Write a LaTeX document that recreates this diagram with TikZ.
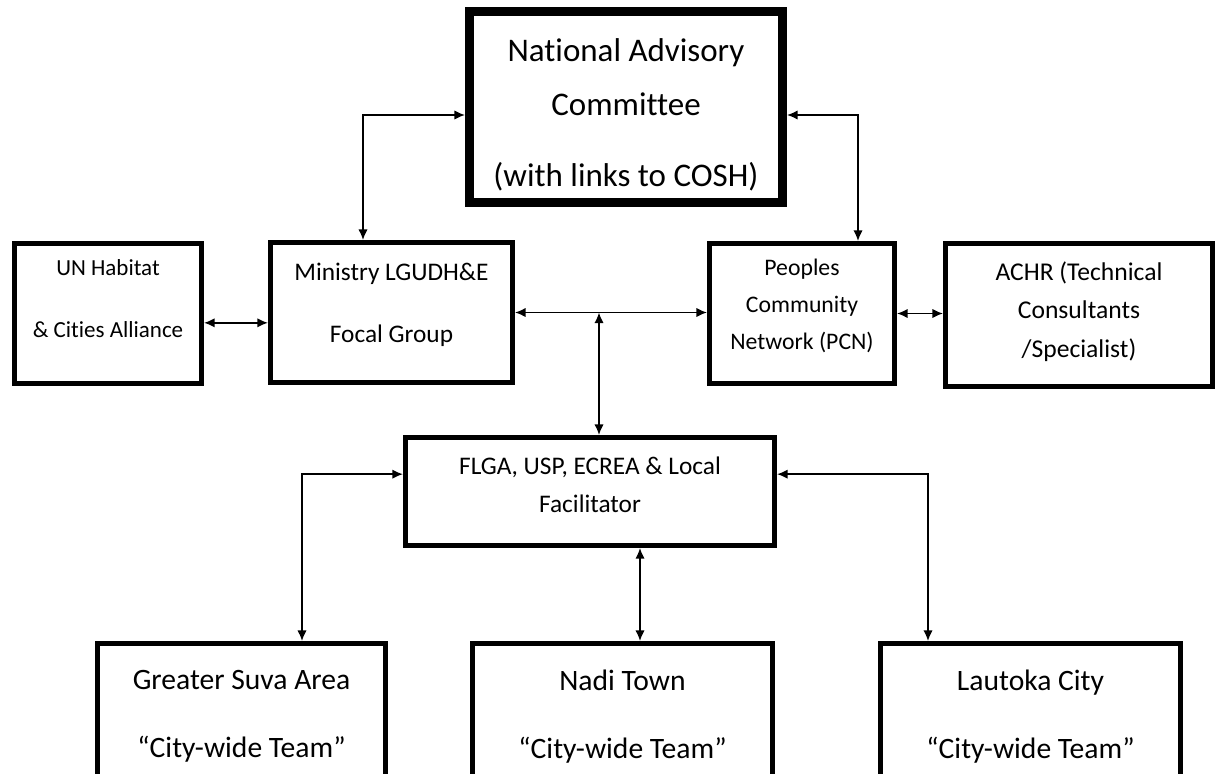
\documentclass[tikz,border=0pt]{standalone}
\usepackage{fontspec}
\setmainfont{Carlito}[Ligatures={TeX,NoCommon}]
\usetikzlibrary{arrows.meta}
\usetikzlibrary{calc}

\newcommand\pxu{0.75pt}

\begin{document}
\begin{tikzpicture}[x=0.75pt,y=-0.75pt,
    unit/.style={draw, line width=3.75pt, align=center, inner sep=0pt},
    chief/.style={unit, line width=6.75pt},
    link/.style={{Latex[length=8pt,width=7pt]}-{Latex[length=8pt,width=7pt]}, line width=1.1pt}]

  \useasboundingbox (0,0) rectangle (1217,774);
  \clip (0,0) rectangle (1217,774);

  % Top committee
  \node[chief, minimum width=313*\pxu, minimum height=191*\pxu,
        font=\fontsize{24.75}{40.5}\selectfont] (nac) at (626,107)
    {\rule{0pt}{29pt}National Advisory\\Committee\\[12.5pt](with links to COSH)};

  % Middle row
  \node[unit, minimum width=187*\pxu, minimum height=140*\pxu,
        font=\fontsize{17.25}{46.5}\selectfont] (un) at (108,313.5)
    {UN Habitat\\\& Cities Alliance\rule[-22pt]{0pt}{22pt}};
  \node[unit, minimum width=242*\pxu, minimum height=140*\pxu,
        font=\fontsize{19}{46.5}\selectfont] (ministry) at (391.5,312.5)
    {Ministry LGUDH\&E\\Focal Group\rule[-14pt]{0pt}{14pt}};
  \node[unit, minimum width=185*\pxu, minimum height=140*\pxu,
        font=\fontsize{17.8}{27.75}\selectfont] (pcn) at (802,313.5)
    {Peoples\\Community\\Network (PCN)\rule[-13.4pt]{0pt}{13.4pt}};
  \node[unit, minimum width=267*\pxu, minimum height=143*\pxu,
        font=\fontsize{19.2}{29}\selectfont] (achr) at (1079,315)
    {ACHR (Technical\\Consultants\\/Specialist)\rule[-8.3pt]{0pt}{8.3pt}};

  % Facilitators
  \node[unit, minimum width=369*\pxu, minimum height=108*\pxu,
        font=\fontsize{19}{28.5}\selectfont] (flga) at (590,491.5)
    {FLGA, USP, ECREA \& Local\\Facilitator\rule[-9.8pt]{0pt}{9.8pt}};

  % City-wide teams
  \node[unit, minimum width=288*\pxu, minimum height=146*\pxu,
        font=\fontsize{22.2}{51}\selectfont] (suva) at (241.5,716.5)
    {Greater Suva Area\\“City-wide Team”};
  \node[unit, minimum width=300*\pxu, minimum height=146*\pxu,
        font=\fontsize{22.2}{51}\selectfont] (nadi) at (622.5,716.5)
    {Nadi Town\\“City-wide Team”};
  \node[unit, minimum width=300*\pxu, minimum height=146*\pxu,
        font=\fontsize{22.2}{51}\selectfont] (lautoka) at (1030.5,716.5)
    {Lautoka City\\“City-wide Team”};

  % x positions of the vertical legs
  \coordinate (minL) at (363,0);
  \coordinate (pcnL) at (858,0);
  \coordinate (hub) at (599,0);
  \coordinate (suvaL) at (302,0);
  \coordinate (nadiL) at (640,0);
  \coordinate (lautL) at (928,0);

  % links to the committee
  \draw[link] ([yshift=-6pt]nac.west) -| (minL |- ministry.north);
  \draw[link] ([yshift=-6pt]nac.east) -| (pcnL |- pcn.north);

  % links in the middle row
  \draw[link] ([yshift=-7pt]un.east) -- ([yshift=-7pt]un.east -| ministry.west);
  \draw[link] (ministry.east) -- (ministry.east -| pcn.west);
  \draw[link] (pcn.east) -- (pcn.east -| achr.west);
  \draw[link] (hub |- flga.north) -- (hub |- ministry.east);

  % links to the teams
  \draw[link] ([yshift=13pt]flga.west) -| (suvaL |- suva.north);
  \draw[link] (nadiL |- flga.south) -- (nadiL |- nadi.north);
  \draw[link] ([yshift=13pt]flga.east) -| (lautL |- lautoka.north);

\end{tikzpicture}
\end{document}
